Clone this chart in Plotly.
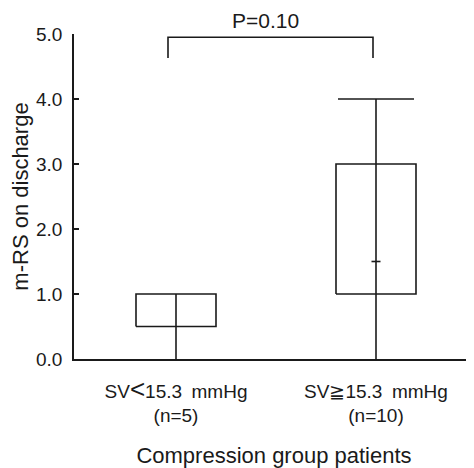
import plotly.graph_objects as go

# ---- data ----
group_labels = ['SV<span style="font-size:26px">&lt;</span>15.3\u2002mmHg<br>(n=5)',
                "SV≧15.3\u2002mmHg<br>(n=10)"]
group_pos = [1, 3]
box_low = [0.5, 1.0]      # lower edge of box
box_high = [1.0, 3.0]     # upper edge of box
whisk_low = [0.0, 0.0]
whisk_high = [1.0, 4.0]
mid_mark = [None, 1.5]    # small horizontal mark
y_ticks = [0, 1, 2, 3, 4, 5]
p_text = "P=0.10"
bracket_x = [0.92, 2.97]
bracket_y = [4.63, 4.95]

# ---- styles ----
LC = "#1a1a1a"
LW = 1.6
BOX_HALF = 0.40
CAP_HALF = 0.38
MARK_HALF = 0.045
FONT = "Liberation Sans, Arial, sans-serif"
FS = 19

fig = go.Figure()

def line(xs, ys):
    fig.add_trace(go.Scatter(x=xs, y=ys, mode="lines",
                             line=dict(color=LC, width=LW),
                             hoverinfo="skip", showlegend=False, cliponaxis=False))

for c, lo, hi, wl, wh, mm in zip(group_pos, box_low, box_high, whisk_low, whisk_high, mid_mark):
    line([c - BOX_HALF, c + BOX_HALF, c + BOX_HALF, c - BOX_HALF, c - BOX_HALF],
         [lo, lo, hi, hi, lo])
    line([c, c], [wl, wh])
    if wh > hi:
        line([c - CAP_HALF, c + CAP_HALF], [wh, wh])
    if mm is not None:
        line([c - MARK_HALF, c + MARK_HALF], [mm, mm])

# significance bracket
line([bracket_x[0], bracket_x[0], bracket_x[1], bracket_x[1]],
     [bracket_y[0], bracket_y[1], bracket_y[1], bracket_y[0]])

fig.add_annotation(x=1.89, y=1.043, xref="x", yref="paper", yanchor="middle",
                   text=p_text, showarrow=False,
                   font=dict(family=FONT, size=21, color=LC))

# page body has an 8px margin, so the figure is sized/margined to compensate
fig.update_layout(
    width=466, height=460,
    margin=dict(l=66, r=0, t=26, b=109),
    plot_bgcolor="white", paper_bgcolor="white",
    font=dict(family=FONT, size=FS, color=LC),
)
fig.update_xaxes(range=[-0.02, 3.98], showline=True, linecolor=LC, linewidth=LW,
                 showgrid=False, zeroline=False, ticks="", automargin=False,
                 tickvals=group_pos, ticktext=group_labels,
                 ticklabelstandoff=14,
                 title=dict(text="Compression group patients", standoff=22,
                            font=dict(family=FONT, size=22)))
fig.update_yaxes(range=[0, 5], showline=True, linecolor=LC, linewidth=LW,
                 showgrid=False, zeroline=False, ticks="inside", ticklen=5,
                 tickwidth=LW, tickcolor=LC, automargin=False,
                 tickvals=y_ticks, tickformat=".1f", ticklabelstandoff=6,
                 title=dict(text="m-RS on discharge", standoff=13,
                            font=dict(family=FONT, size=22)))

fig.write_html("out.html")
